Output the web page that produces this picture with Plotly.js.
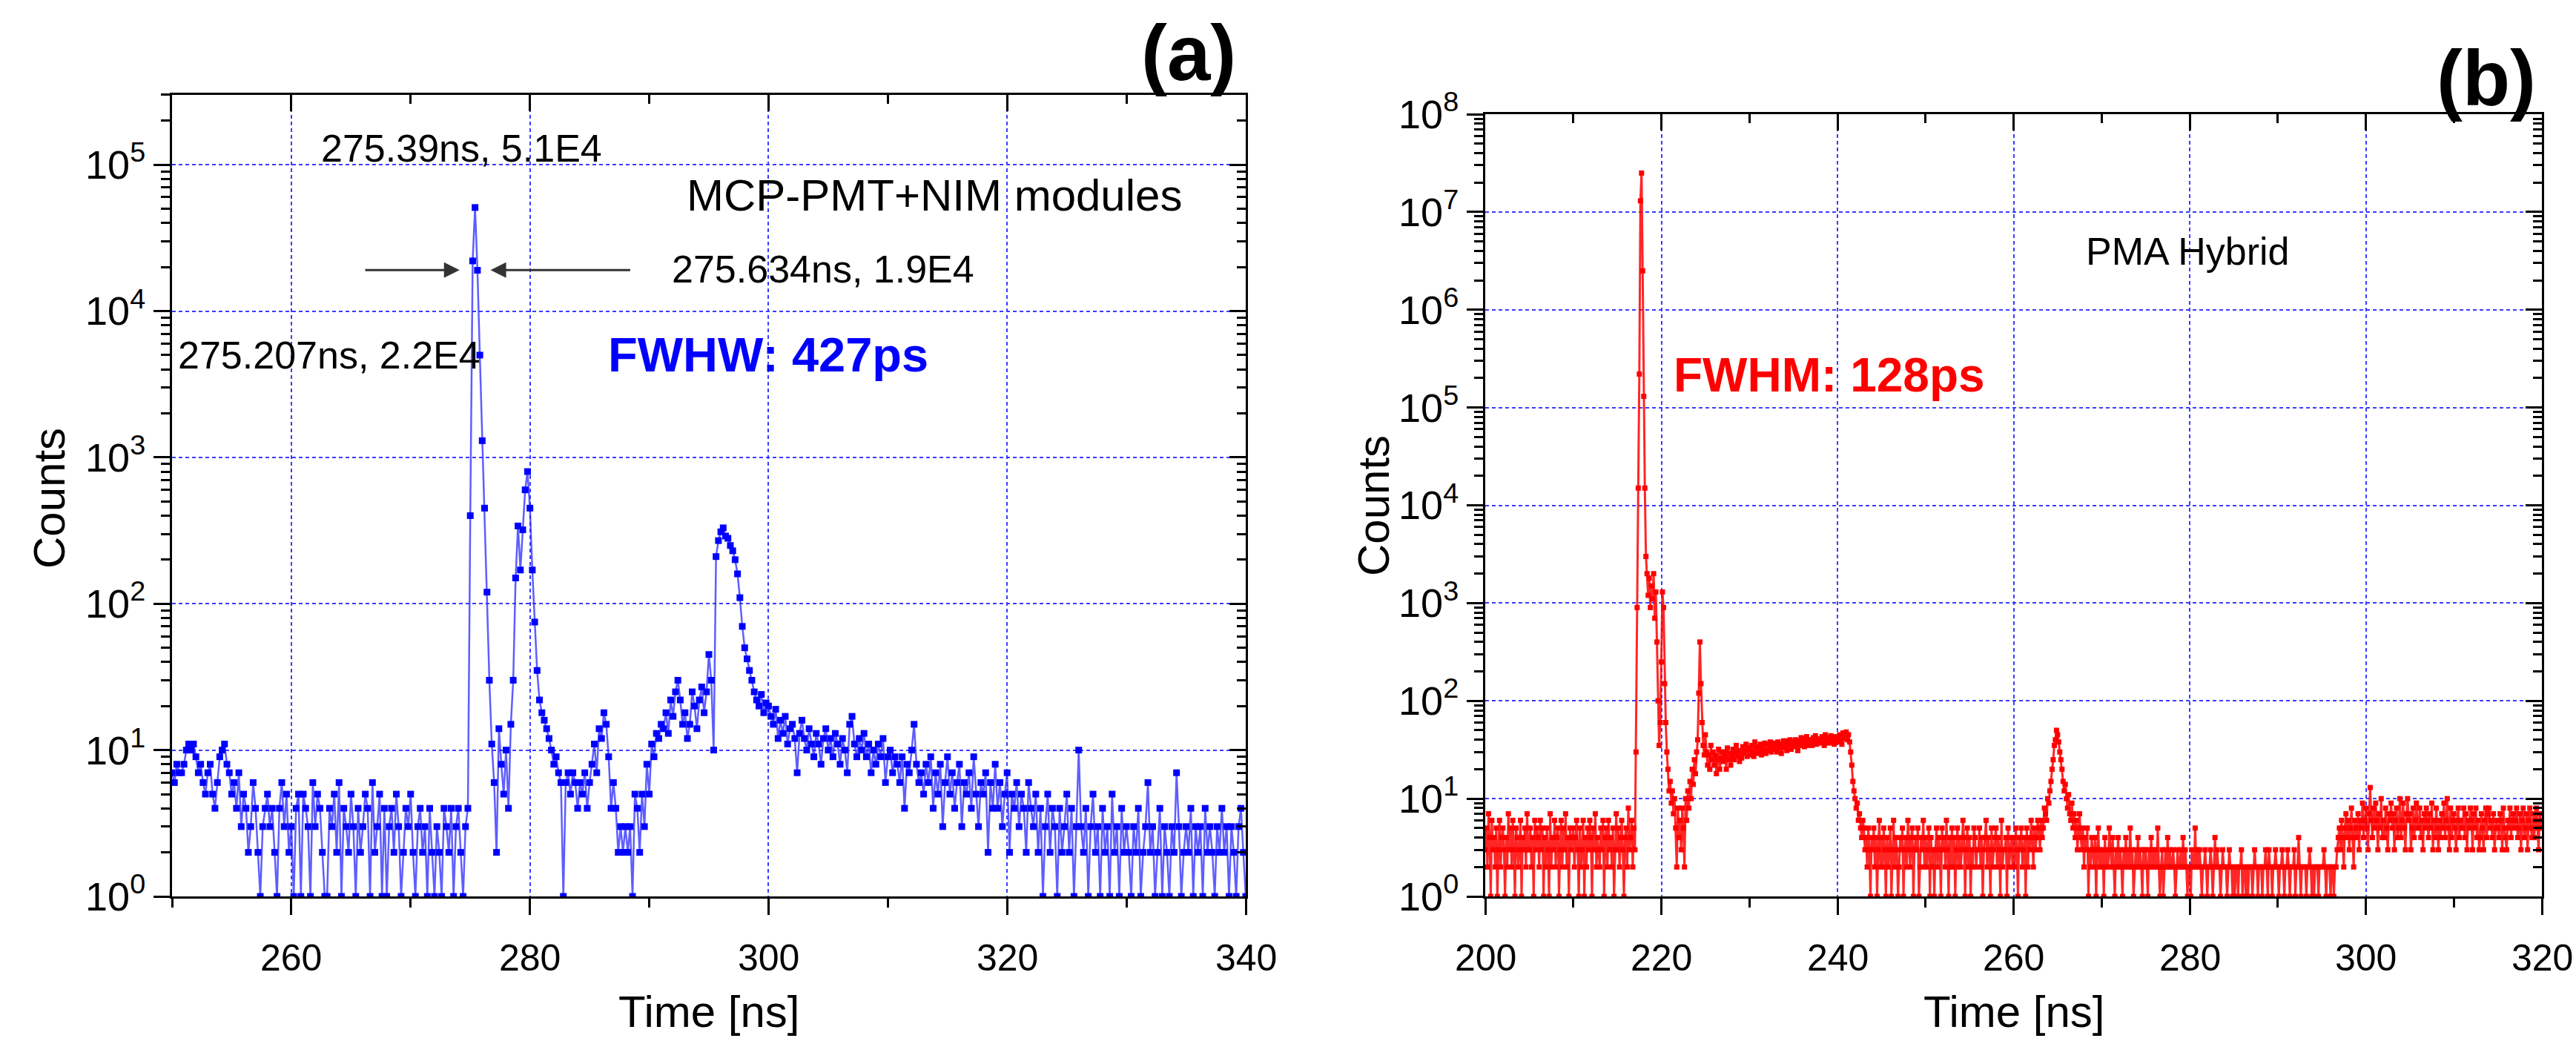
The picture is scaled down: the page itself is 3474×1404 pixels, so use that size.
<!DOCTYPE html>
<html><head><meta charset="utf-8">
<script src="https://cdn.plot.ly/plotly-3.0.1.min.js"></script>
<style>html,body{margin:0;padding:0;background:#fff;}#chart{width:3474px;height:1404px;}</style>
</head><body><div id="chart"></div>
<script>
// ---------- Panel (a): MCP-PMT + NIM modules, 0.2 ns bins from 250 ns ----------
const aBinStart = 250;
const aBinWidth = 0.2;
const aCounts = [
7,6,8,7,7, 8,10,11,10,11, 9,7,8,6,5, 7,8,5,4,6, 9,10,11,8,7,
5,6,4,7,3, 5,4,2,3,6, 4,2,1,3,4, 5,3,4,2,1, 4,6,3,5,2,
3,1,4,5,1, 5,4,3,1,6, 3,5,4,2,1, 1,4,3,5,2, 6,1,4,3,2,
5,3,1,4,2, 3,5,4,1,6, 2,3,5,1,4, 1,3,4,2,5, 3,1,2,4,3,
5,2,1,3,4, 2,3,1,4,2, 1,3,2,1,4, 3,2,4,1,3, 4,2,1,3,4,
400,22000,51000,19000,5000, 1300,450,120,30,11, 6,2,14,8,5, 10,4,15,30,150, 340,170,320,600,800,
450,170,75,35,22, 18,16,14,12,10, 8,9,7,6,1, 6,7,5,7,6, 4,6,5,7,4,
6,8,11,7,14, 12,18,15,9,4, 6,4,2,3,2, 3,2,3,1,5, 4,2,5,3,8,
5,11,9,13,12, 15,14,18,13,22, 17,25,30,22,15, 18,12,15,25,20, 14,22,27,18,25,
45,30,10,210,270, 310,330,290,280,250, 230,200,160,110,70, 50,42,35,30,25, 22,20,24,18,21,
20,17,15,19,12, 16,13,17,11,14, 15,12,7,13,16, 12,10,14,11,9, 13,11,8,12,14,
10,12,9,13,11, 8,12,10,7,15, 17,11,9,12,10, 13,9,11,7,10, 8,11,9,12,6,
9,10,7,9,8, 6,9,4,8,7, 10,15,8,6,7, 5,8,6,9,4, 7,5,8,3,6,
9,5,7,4,6, 8,3,6,5,7, 4,9,5,3,6, 5,7,2,6,4, 8,4,6,3,5,
7,2,5,4,6, 3,5,4,2,6, 4,3,5,2,4, 1,3,5,2,4, 3,1,4,2,3,
5,2,4,1,3, 10,3,2,4,1, 3,5,2,3,1, 4,2,3,1,5, 2,3,1,4,2,
3,2,1,3,2, 4,1,2,3,6, 2,3,1,2,4, 1,3,2,1,3, 2,7,3,1,2,
3,2,4,1,3, 2,3,1,4,2, 3,2,1,3,2, 4,2,3,1,3, 2,1,3,4,2,
1
];

// ---------- Panel (b): PMA Hybrid, 0.125 ns bins from 200 ns ----------
const bBinStart = 200;
const bBinWidth = 0.125;
const bCounts = [
3,5,2,7,4,1,6,3, 4,2,5,1,3,6,2,4, 5,3,1,4,2,7,3,5, 2,6,3,1,5,4,2,3, 6,1,4,3,5,2,7,3,
3,5,2,4,1,6,3,5, 4,2,6,3,5,1,4,2, 5,3,1,7,2,4,3,6, 2,4,5,1,3,6,2,5, 3,7,2,4,1,5,3,4,
5,2,4,6,3,1,5,2, 3,6,1,4,2,5,3,6, 4,1,5,3,7,2,4,3, 2,5,3,6,1,4,5,2, 6,3,4,2,5,1,3,7,
3,5,2,4,6,3,1,4, 5,2,8,3,4,6,2,5,
3,30,900,15000,220000,13000000,25000000,2500000,
130000,15000,3000,2000,1200,1800,900,1500,
1100,2000,700,1300,400,100,35,60,
250,1300,900,150,60,30,20,12,
15,9,12,7,10,5,2,8,
4,6,3,8,5,2,10,6,
12,8,15,10,20,14,25,18,
30,40,120,400,150,60,35,28,
45,30,22,28,20,35,25,30, 22,28,18,25,32,20,26,30, 24,30,27,20,33,25,29,22, 28,32,25,30,35,27,31,24,
30,26,34,29,31,36,27,33, 32,28,35,30,27,38,33,29, 34,30,36,28,33,31,37,29, 31,36,33,38,30,35,32,37,
35,30,38,33,36,29,34,39, 33,37,31,39,35,40,32,36, 38,34,40,36,31,39,35,42, 36,41,34,38,43,35,40,37,
39,35,42,38,44,36,41,38, 40,37,43,39,35,45,38,42, 37,41,44,38,42,36,43,40, 42,38,45,40,36,47,41,43,
48,40,45,38,30,22,15,12, 10,8,9,6,7,5,4,6, 5,3,4,2,5,3,1,4,
3,5,2,4,1,3,6,2, 4,2,5,3,1,4,2,3, 5,1,3,6,2,4,3,1, 2,4,3,5,1,3,4,2, 6,3,2,4,5,1,3,4,
3,5,1,2,4,3,6,2, 4,2,3,5,1,4,2,3, 1,3,5,2,4,3,1,5, 3,4,2,6,3,1,4,2, 5,2,4,1,3,5,2,4,
2,3,6,4,1,3,5,2, 4,1,3,2,5,4,2,3, 3,5,2,4,1,3,4,6, 2,4,3,1,5,2,3,4, 5,2,4,3,1,6,2,3,
3,4,1,5,2,3,4,2, 4,2,5,3,1,4,3,5, 2,3,4,1,5,2,4,3, 6,4,2,5,3,4,6,5, 3,6,4,5,8,7,6,10,
9,12,15,20,25,35,40,50, 45,38,30,25,20,15,12,14, 10,8,11,7,6,9,5,7, 4,6,3,5,7,4,3,5,
2,4,3,5,1,3,2,4, 3,2,4,1,3,5,2,3, 2,3,1,4,2,3,2,5, 3,2,4,2,1,3,2,4, 2,3,2,1,3,2,4,2,
3,2,5,2,3,1,2,3, 2,4,2,3,2,1,3,2, 3,2,1,3,2,4,2,3, 2,3,2,5,2,1,2,3, 1,2,3,2,4,2,3,2,
2,3,2,1,2,3,2,2, 3,2,4,2,3,2,1,2, 2,1,3,2,2,5,2,3, 2,3,2,1,2,2,3,2, 1,2,2,3,2,1,2,4,
2,3,2,2,1,2,3,2, 2,2,1,2,3,2,2,1, 2,1,2,2,1,2,2,3, 1,2,2,1,2,1,2,2, 2,1,2,3,2,2,1,2,
2,2,1,2,2,3,2,1, 3,2,2,1,2,2,3,2, 2,1,2,2,3,2,1,2, 2,3,2,1,2,2,2,3, 1,2,2,4,2,1,2,2,
2,2,1,2,2,3,2,1, 2,1,2,2,2,1,2,2, 2,2,3,2,1,2,2,2, 1,2,2,1,2,2,3,4,
5,3,6,4,2,5,7,4, 6,3,5,8,4,2,6,5, 4,7,3,6,5,9,4,6, 8,5,3,7,13,6,4,8, 5,9,6,3,7,5,10,4,
6,4,8,5,3,7,6,9, 5,7,3,6,8,4,5,10, 4,6,9,5,3,7,10,6, 7,3,5,8,4,6,9,5, 5,8,4,6,3,7,5,8,
6,4,7,5,9,3,6,4, 8,5,3,6,4,7,5,9, 4,6,10,5,3,8,4,6, 7,5,3,6,8,4,6,5, 5,8,4,7,3,6,5,8,
6,3,7,5,8,4,6,3, 4,7,5,3,6,8,4,7, 8,5,6,4,7,3,5,6, 5,4,7,6,3,8,5,4, 3,6,5,8,4,6,7,5,
6,8,4,5,7,3,6,8, 4,5,7,3,6,8,5,4, 7,4,6,8,5,3,7,6,
5
];

// ---------- Axis tick labels ----------
const aXTickVals = [260, 280, 300, 320, 340];
const bXTickVals = [200, 220, 240, 260, 280, 300, 320];
const aYTickVals = [1, 10, 100, 1000, 10000, 100000];
const aYTickText = ['10<sup>0</sup>','10<sup>1</sup>','10<sup>2</sup>','10<sup>3</sup>','10<sup>4</sup>','10<sup>5</sup>'];
const bYTickVals = [1, 10, 100, 1000, 1e4, 1e5, 1e6, 1e7, 1e8];
const bYTickText = ['10<sup>0</sup>','10<sup>1</sup>','10<sup>2</sup>','10<sup>3</sup>','10<sup>4</sup>','10<sup>5</sup>','10<sup>6</sup>','10<sup>7</sup>','10<sup>8</sup>'];
const aXRange = [250, 340];
const bXRange = [200, 320];
const aYLogRange = [0, 5.477];
const bYLogRange = [0, 8];
const xTitle = 'Time [ns]';
const yTitle = 'Counts';

// bin centres from the histogram definition
const aTime = aCounts.map((c, i) => +(aBinStart + i * aBinWidth).toFixed(3));
const bTime = bCounts.map((c, i) => +(bBinStart + i * bBinWidth).toFixed(3));

function logMinor(maxDecade) {
  const v = [];
  for (let d = 0; d < maxDecade; d++) for (let k = 2; k <= 9; k++) v.push(k * Math.pow(10, d));
  return v;
}

const FONT = 'Liberation Sans, Arial, sans-serif';
const W = 3474, H = 1404;
const domAx = [232 / W, 1680 / W];
const domBx = [2003 / W, 3428 / W];
const domAy = [1 - 1209 / H, 1 - 128 / H];
const domBy = [1 - 1209 / H, 1 - 154 / H];
const GRID = '#3c3cff';

function mainX(domain, range, anchor, vals) {
  return {
    domain, range, anchor, type: 'linear', autorange: false,
    tickmode: 'array', tickvals: vals, ticks: 'outside', ticklen: 22, tickwidth: 3, tickcolor: '#000',
    showticklabels: false,
    showline: true, linewidth: 3, linecolor: '#000', mirror: true,
    showgrid: true, gridcolor: GRID, gridwidth: 2, griddash: '5px,4px', zeroline: false,
    minor: {tick0: 0, dtick: 10, ticks: 'outside', ticklen: 12, tickwidth: 3, tickcolor: '#000', showgrid: false}
  };
}
function mainY(domain, range, anchor, vals, text, maxDec) {
  return {
    domain, range, anchor, type: 'log', autorange: false,
    tickmode: 'array', tickvals: vals, ticktext: text,
    ticks: 'outside', ticklen: 22, tickwidth: 3, tickcolor: '#000',
    showline: true, linewidth: 3, linecolor: '#000', mirror: true,
    showgrid: true, gridcolor: GRID, gridwidth: 2, griddash: '5px,4px', zeroline: false,
    minor: {tickmode: 'array', tickvals: logMinor(maxDec), ticks: 'outside', ticklen: 12, tickwidth: 3, tickcolor: '#000', showgrid: false},
    tickfont: {family: FONT, size: 54, color: '#000'}
  };
}
function topX(overlay, range, anchor, vals) {
  return {
    overlaying: overlay, side: 'top', anchor, range, autorange: false, type: 'linear',
    tickmode: 'array', tickvals: vals, ticks: 'inside', ticklen: 22, tickwidth: 3, tickcolor: '#000',
    showticklabels: false, showgrid: false, showline: false, zeroline: false,
    minor: {tick0: 0, dtick: 10, ticks: 'inside', ticklen: 12, tickwidth: 3, tickcolor: '#000', showgrid: false}
  };
}
function rightY(overlay, range, anchor, vals, maxDec) {
  return {
    overlaying: overlay, side: 'right', anchor, range, autorange: false, type: 'log',
    tickmode: 'array', tickvals: vals, ticks: 'inside', ticklen: 22, tickwidth: 3, tickcolor: '#000',
    showticklabels: false, showgrid: false, showline: false, zeroline: false,
    minor: {tickmode: 'array', tickvals: logMinor(maxDec), ticks: 'inside', ticklen: 12, tickwidth: 3, tickcolor: '#000', showgrid: false}
  };
}

const traces = [
  {x: aTime, y: aCounts, xaxis: 'x', yaxis: 'y', type: 'scatter', mode: 'lines+markers',
   line: {color: 'rgba(40,40,255,0.75)', width: 2.5}, marker: {symbol: 'square', size: 9, color: '#0000ff'},
   showlegend: false, hoverinfo: 'skip'},
  {x: bTime, y: bCounts, xaxis: 'x2', yaxis: 'y2', type: 'scatter', mode: 'lines+markers',
   line: {color: 'rgba(255,0,0,0.85)', width: 3}, marker: {symbol: 'square', size: 7, color: '#ff0000'},
   showlegend: false, hoverinfo: 'skip'},
  {x: [], y: [], xaxis: 'x3', yaxis: 'y', type: 'scatter', showlegend: false},
  {x: [], y: [], xaxis: 'x', yaxis: 'y3', type: 'scatter', showlegend: false},
  {x: [], y: [], xaxis: 'x4', yaxis: 'y2', type: 'scatter', showlegend: false},
  {x: [], y: [], xaxis: 'x2', yaxis: 'y4', type: 'scatter', showlegend: false}
];

function txt(xref, yref, x, y, text, size, color, extra) {
  return Object.assign({xref, yref, x, y, text, showarrow: false,
    font: {family: FONT, size, color}, xanchor: 'center', yanchor: 'middle'}, extra || {});
}

const TICK_Y = 1 - 1292 / H;   // centre of x tick labels (paper)
const TITLE_Y = 1 - 1364 / H;  // centre of x axis titles (paper)

const annotations = [
  txt('x', 'y', 274.3, 5.11, '275.39ns, 5.1E4', 52, '#000'),
  txt('x', 'y', 313.9, 4.79, 'MCP-PMT+NIM modules', 60, '#000'),
  txt('x', 'y', 304.6, 4.286, '275.634ns, 1.9E4', 52, '#000'),
  txt('x', 'y', 263.2, 3.70, '275.207ns, 2.2E4', 52, '#000'),
  txt('x', 'y', 300.0, 3.70, '<b>FWHW: 427ps</b>', 65, '#0000ff'),
  {xref: 'x', yref: 'y', x: 274.1, y: 4.28, axref: 'x', ayref: 'y', ax: 266.1, ay: 4.28, text: '',
   showarrow: true, arrowhead: 2, arrowsize: 1.4, arrowwidth: 3, arrowcolor: '#333'},
  {xref: 'x', yref: 'y', x: 276.7, y: 4.28, axref: 'x', ayref: 'y', ax: 288.5, ay: 4.28, text: '',
   showarrow: true, arrowhead: 2, arrowsize: 1.4, arrowwidth: 3, arrowcolor: '#333'},
  txt('paper', 'paper', 1603 / W, 1 - 128 / H, '<b>(a)</b>', 105, '#000', {yanchor: 'bottom', yshift: -4}),
  txt('x2', 'y2', 279.8, 6.6, 'PMA Hybrid', 52, '#000'),
  txt('x2', 'y2', 239.1, 5.33, '<b>FWHM: 128ps</b>', 64, '#ff0000'),
  txt('paper', 'paper', 3353 / W, 1 - 154 / H, '<b>(b)</b>', 105, '#000', {yanchor: 'bottom', yshift: -12}),
  // axis titles
  txt('paper', 'paper', 956 / W, TITLE_Y, xTitle, 60, '#000'),
  txt('paper', 'paper', 2716 / W, TITLE_Y, xTitle, 60, '#000'),
  txt('paper', 'paper', 66 / W, 1 - 672 / H, yTitle, 60, '#000', {textangle: -90}),
  txt('paper', 'paper', 1852 / W, 1 - 682 / H, yTitle, 60, '#000', {textangle: -90})
];
// x tick labels, placed on the data scale of each x axis
aXTickVals.forEach(v => annotations.push(txt('x', 'paper', v, TICK_Y, String(v), 50, '#000')));
bXTickVals.forEach(v => annotations.push(txt('x2', 'paper', v, TICK_Y, String(v), 50, '#000')));

const layout = {
  width: W, height: H, margin: {l: 0, r: 0, t: 0, b: 0},
  paper_bgcolor: '#fff', plot_bgcolor: '#fff', showlegend: false,
  font: {family: FONT, color: '#000'},
  xaxis: mainX(domAx, aXRange, 'y', aXTickVals),
  yaxis: mainY(domAy, aYLogRange, 'x', aYTickVals, aYTickText, 6),
  xaxis2: mainX(domBx, bXRange, 'y2', bXTickVals),
  yaxis2: mainY(domBy, bYLogRange, 'x2', bYTickVals, bYTickText, 8),
  xaxis3: topX('x', aXRange, 'y', aXTickVals),
  yaxis3: rightY('y', aYLogRange, 'x', aYTickVals, 6),
  xaxis4: topX('x2', bXRange, 'y2', bXTickVals),
  yaxis4: rightY('y2', bYLogRange, 'x2', bYTickVals, 8),
  annotations
};

Plotly.newPlot('chart', traces, layout, {staticPlot: true, displayModeBar: false});
</script></body></html>
